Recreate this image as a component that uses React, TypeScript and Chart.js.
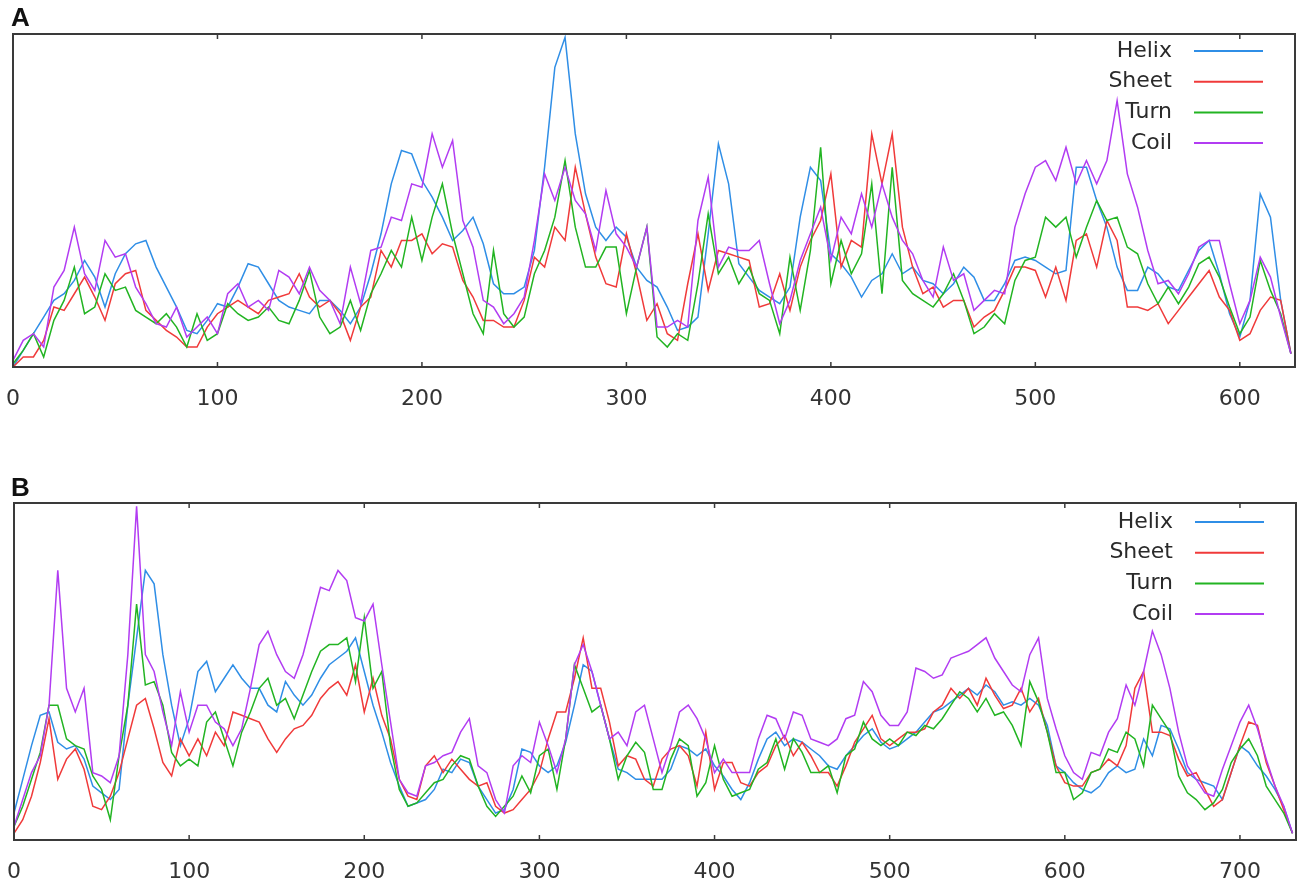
import React, { useEffect, useRef } from 'react';
import { Chart, registerables } from 'chart.js';

Chart.register(...registerables);

// residue step between samples (both panels)
const STEP = 5;

const seriesNames = ['Helix', 'Sheet', 'Turn', 'Coil'];
const seriesColors = ['#2f8ee6', '#f03a3a', '#22b422', '#b23cf2'];

// Panel A (0..627)
const helixA = [
  0, 0.05, 0.10, 0.15, 0.20, 0.22, 0.26, 0.32, 0.27, 0.18,
  0.28, 0.34, 0.37, 0.38, 0.30, 0.24, 0.18, 0.11, 0.10, 0.14,
  0.19, 0.18, 0.24, 0.31, 0.30, 0.25, 0.20, 0.18, 0.17, 0.16,
  0.20, 0.20, 0.17, 0.13, 0.18, 0.28, 0.40, 0.55, 0.65, 0.64,
  0.56, 0.51, 0.45, 0.38, 0.41, 0.45, 0.37, 0.25, 0.22, 0.22,
  0.24, 0.35, 0.60, 0.90, 0.99, 0.70, 0.52, 0.42, 0.38, 0.42,
  0.39, 0.30, 0.26, 0.24, 0.18, 0.11, 0.12, 0.15, 0.40, 0.67,
  0.55, 0.31, 0.27, 0.23, 0.21, 0.19, 0.24, 0.45, 0.60, 0.56,
  0.34, 0.31, 0.27, 0.21, 0.26, 0.28, 0.34, 0.28, 0.30, 0.26,
  0.25, 0.22, 0.25, 0.30, 0.27, 0.20, 0.20, 0.25, 0.32, 0.33,
  0.32, 0.30, 0.28, 0.29, 0.60, 0.60, 0.50, 0.42, 0.30, 0.23,
  0.23, 0.30, 0.28, 0.24, 0.23, 0.29, 0.35, 0.38, 0.28, 0.16,
  0.09, 0.20, 0.52, 0.45, 0.20, 0.04,
];
const sheetA = [
  0, 0.03, 0.03, 0.08, 0.18, 0.17, 0.22, 0.27, 0.21, 0.14,
  0.25, 0.28, 0.29, 0.17, 0.14, 0.11, 0.09, 0.06, 0.06, 0.12,
  0.16, 0.18, 0.20, 0.18, 0.16, 0.20, 0.21, 0.22, 0.28, 0.21,
  0.18, 0.20, 0.16, 0.08, 0.18, 0.21, 0.35, 0.30, 0.38, 0.38,
  0.40, 0.34, 0.37, 0.36, 0.26, 0.21, 0.14, 0.14, 0.12, 0.12,
  0.20, 0.33, 0.30, 0.42, 0.38, 0.60, 0.46, 0.33, 0.25, 0.24,
  0.40, 0.28, 0.14, 0.19, 0.10, 0.08, 0.25, 0.40, 0.23, 0.35,
  0.34, 0.33, 0.32, 0.18, 0.19, 0.28, 0.17, 0.30, 0.38, 0.44,
  0.58, 0.30, 0.38, 0.36, 0.70, 0.55, 0.70, 0.42, 0.30, 0.22,
  0.24, 0.18, 0.20, 0.20, 0.12, 0.15, 0.17, 0.23, 0.30, 0.30,
  0.29, 0.21, 0.30, 0.20, 0.38, 0.40, 0.30, 0.44, 0.38, 0.18,
  0.18, 0.17, 0.19, 0.13, 0.17, 0.21, 0.25, 0.29, 0.21, 0.17,
  0.08, 0.10, 0.17, 0.21, 0.20, 0.04,
];
const turnA = [
  0.01, 0.05, 0.10, 0.03, 0.14, 0.20, 0.30, 0.16, 0.18, 0.28,
  0.23, 0.24, 0.17, 0.15, 0.13, 0.16, 0.12, 0.06, 0.16, 0.08,
  0.10, 0.19, 0.16, 0.14, 0.15, 0.18, 0.14, 0.13, 0.20, 0.29,
  0.15, 0.10, 0.12, 0.20, 0.11, 0.22, 0.28, 0.35, 0.30, 0.45,
  0.32, 0.45, 0.55, 0.40, 0.28, 0.16, 0.10, 0.35, 0.16, 0.12,
  0.15, 0.28, 0.35, 0.45, 0.62, 0.42, 0.30, 0.30, 0.36, 0.36,
  0.16, 0.30, 0.42, 0.09, 0.06, 0.10, 0.08, 0.25, 0.46, 0.28,
  0.33, 0.25, 0.30, 0.22, 0.20, 0.10, 0.33, 0.17, 0.35, 0.66,
  0.25, 0.38, 0.28, 0.34, 0.55, 0.22, 0.60, 0.26, 0.22, 0.20,
  0.18, 0.22, 0.28, 0.20, 0.10, 0.12, 0.16, 0.13, 0.26, 0.32,
  0.33, 0.45, 0.42, 0.45, 0.33, 0.42, 0.50, 0.44, 0.45, 0.36,
  0.34, 0.25, 0.19, 0.24, 0.19, 0.24, 0.31, 0.33, 0.27, 0.18,
  0.10, 0.15, 0.32, 0.23, 0.16, 0.04,
];
const coilA = [
  0.02, 0.08, 0.10, 0.06, 0.24, 0.29, 0.42, 0.28, 0.23, 0.38,
  0.33, 0.34, 0.24, 0.19, 0.13, 0.12, 0.18, 0.09, 0.12, 0.15,
  0.10, 0.22, 0.25, 0.18, 0.20, 0.17, 0.29, 0.27, 0.22, 0.30,
  0.23, 0.20, 0.13, 0.30, 0.19, 0.35, 0.36, 0.45, 0.44, 0.55,
  0.54, 0.70, 0.60, 0.68, 0.44, 0.36, 0.20, 0.18, 0.13, 0.16,
  0.21, 0.38, 0.58, 0.50, 0.60, 0.50, 0.46, 0.35, 0.53, 0.40,
  0.36, 0.30, 0.42, 0.12, 0.12, 0.14, 0.12, 0.44, 0.57, 0.30,
  0.36, 0.35, 0.35, 0.38, 0.25, 0.13, 0.20, 0.32, 0.40, 0.48,
  0.32, 0.45, 0.40, 0.52, 0.42, 0.55, 0.45, 0.38, 0.34, 0.26,
  0.21, 0.36, 0.26, 0.28, 0.17, 0.20, 0.23, 0.22, 0.42, 0.52,
  0.60, 0.62, 0.56, 0.66, 0.55, 0.62, 0.55, 0.62, 0.80, 0.58,
  0.48, 0.35, 0.25, 0.26, 0.22, 0.28, 0.36, 0.38, 0.38, 0.25,
  0.13, 0.20, 0.33, 0.27, 0.15, 0.04,
];

// Panel B (0..732)
const helixB = [
  0.08, 0.18, 0.28, 0.37, 0.38, 0.29, 0.27, 0.28, 0.24, 0.16,
  0.14, 0.12, 0.15, 0.40, 0.60, 0.80, 0.76, 0.55, 0.40, 0.28,
  0.36, 0.50, 0.53, 0.44, 0.48, 0.52, 0.48, 0.45, 0.45, 0.40,
  0.38, 0.47, 0.43, 0.40, 0.43, 0.48, 0.52, 0.54, 0.56, 0.60,
  0.50, 0.40, 0.32, 0.23, 0.16, 0.10, 0.11, 0.12, 0.15, 0.21,
  0.20, 0.24, 0.23, 0.16, 0.12, 0.08, 0.09, 0.15, 0.27, 0.26,
  0.22, 0.20, 0.22, 0.29, 0.40, 0.52, 0.50, 0.40, 0.30, 0.21,
  0.20, 0.18, 0.18, 0.18, 0.18, 0.21, 0.28, 0.27, 0.25, 0.27,
  0.22, 0.19, 0.15, 0.12, 0.17, 0.24, 0.30, 0.32, 0.28, 0.30,
  0.29, 0.27, 0.25, 0.22, 0.21, 0.25, 0.28, 0.31, 0.33, 0.29,
  0.27, 0.28, 0.30, 0.32, 0.35, 0.38, 0.39, 0.41, 0.43, 0.45,
  0.43, 0.46, 0.44, 0.40, 0.41, 0.40, 0.42, 0.40, 0.34, 0.22,
  0.20, 0.17, 0.15, 0.14, 0.16, 0.20, 0.22, 0.20, 0.21, 0.30,
  0.25, 0.34, 0.33, 0.27, 0.20, 0.18, 0.17, 0.16, 0.12, 0.20,
  0.28, 0.26, 0.22, 0.19, 0.15, 0.10, 0.02,
];
const sheetB = [
  0.02, 0.06, 0.13, 0.23, 0.36, 0.18, 0.24, 0.27, 0.21, 0.10,
  0.09, 0.13, 0.20, 0.30, 0.40, 0.42, 0.33, 0.23, 0.19, 0.30,
  0.25, 0.30, 0.25, 0.32, 0.28, 0.38, 0.37, 0.36, 0.35, 0.30,
  0.26, 0.30, 0.33, 0.34, 0.37, 0.42, 0.45, 0.47, 0.43, 0.52,
  0.38, 0.48, 0.37, 0.30, 0.18, 0.13, 0.12, 0.22, 0.25, 0.20,
  0.24, 0.21, 0.18, 0.16, 0.17, 0.10, 0.08, 0.09, 0.12, 0.15,
  0.20, 0.30, 0.38, 0.38, 0.48, 0.60, 0.45, 0.45, 0.35, 0.22,
  0.25, 0.24, 0.18, 0.16, 0.24, 0.27, 0.28, 0.25, 0.16, 0.32,
  0.15, 0.23, 0.23, 0.17, 0.16, 0.20, 0.22, 0.28, 0.31, 0.25,
  0.29, 0.25, 0.20, 0.20, 0.16, 0.22, 0.29, 0.33, 0.37, 0.30,
  0.28, 0.30, 0.32, 0.32, 0.33, 0.38, 0.40, 0.45, 0.42, 0.45,
  0.40, 0.48, 0.43, 0.39, 0.40, 0.45, 0.38, 0.42, 0.32, 0.22,
  0.17, 0.16, 0.16, 0.20, 0.21, 0.24, 0.22, 0.28, 0.45, 0.50,
  0.32, 0.32, 0.31, 0.24, 0.19, 0.20, 0.15, 0.10, 0.12, 0.20,
  0.28, 0.35, 0.34, 0.23, 0.16, 0.09, 0.02,
];
const turnB = [
  0.04, 0.10, 0.18, 0.26, 0.40, 0.40, 0.30, 0.28, 0.27, 0.19,
  0.15, 0.06, 0.25, 0.40, 0.70, 0.46, 0.47, 0.40, 0.26, 0.22,
  0.24, 0.22, 0.35, 0.38, 0.30, 0.22, 0.32, 0.38, 0.45, 0.48,
  0.40, 0.42, 0.36, 0.43, 0.50, 0.56, 0.58, 0.58, 0.60, 0.47,
  0.66, 0.45, 0.50, 0.28, 0.15, 0.10, 0.11, 0.14, 0.17, 0.18,
  0.22, 0.25, 0.24, 0.16, 0.10, 0.07, 0.10, 0.13, 0.19, 0.14,
  0.25, 0.27, 0.15, 0.30, 0.52, 0.45, 0.38, 0.40, 0.30, 0.18,
  0.25, 0.29, 0.26, 0.15, 0.15, 0.24, 0.30, 0.28, 0.13, 0.17,
  0.28, 0.18, 0.13, 0.14, 0.15, 0.21, 0.23, 0.30, 0.21, 0.30,
  0.26, 0.20, 0.20, 0.22, 0.14, 0.25, 0.27, 0.35, 0.30, 0.28,
  0.30, 0.28, 0.32, 0.31, 0.34, 0.33, 0.36, 0.40, 0.44, 0.42,
  0.38, 0.42, 0.37, 0.38, 0.34, 0.28, 0.47, 0.41, 0.32, 0.20,
  0.20, 0.12, 0.14, 0.20, 0.21, 0.27, 0.26, 0.32, 0.30, 0.22,
  0.40, 0.36, 0.32, 0.19, 0.14, 0.12, 0.09, 0.11, 0.15, 0.23,
  0.27, 0.30, 0.25, 0.16, 0.12, 0.08, 0.02,
];
const coilB = [
  0.04, 0.12, 0.20, 0.25, 0.40, 0.80, 0.45, 0.38, 0.45, 0.20,
  0.19, 0.17, 0.25, 0.55, 0.99, 0.55, 0.50, 0.38, 0.28, 0.44,
  0.32, 0.40, 0.40, 0.35, 0.33, 0.28, 0.33, 0.45, 0.58, 0.62,
  0.55, 0.50, 0.48, 0.55, 0.65, 0.75, 0.74, 0.80, 0.77, 0.66,
  0.65, 0.70, 0.52, 0.35, 0.18, 0.14, 0.13, 0.22, 0.23, 0.25,
  0.26, 0.32, 0.36, 0.22, 0.20, 0.12, 0.08, 0.22, 0.25, 0.23,
  0.35, 0.28, 0.20, 0.30, 0.52, 0.58, 0.50, 0.40, 0.30, 0.32,
  0.28, 0.38, 0.40, 0.30, 0.20, 0.28, 0.38, 0.40, 0.36, 0.30,
  0.20, 0.24, 0.20, 0.20, 0.20, 0.30, 0.37, 0.36, 0.30, 0.38,
  0.37, 0.30, 0.29, 0.28, 0.30, 0.36, 0.37, 0.47, 0.44, 0.37,
  0.34, 0.34, 0.38, 0.51, 0.50, 0.48, 0.49, 0.54, 0.55, 0.56,
  0.58, 0.60, 0.54, 0.50, 0.46, 0.44, 0.55, 0.60, 0.42, 0.33,
  0.25, 0.20, 0.18, 0.26, 0.25, 0.32, 0.36, 0.46, 0.40, 0.50,
  0.62, 0.55, 0.45, 0.32, 0.22, 0.18, 0.14, 0.13, 0.21, 0.28,
  0.35, 0.40, 0.33, 0.24, 0.16, 0.10, 0.02,
];

const FONT = "'DejaVu Sans', sans-serif";

// box around the plot with inward tick marks, like the original plot
const framePlugin = {
  id: 'frame',
  afterDatasetsDraw(chart: any) {
    const { ctx, chartArea: a, scales } = chart;
    ctx.save();
    ctx.strokeStyle = '#3a3a3a';
    ctx.lineWidth = 2;
    ctx.strokeRect(a.left, a.top, a.right - a.left, a.bottom - a.top);
    ctx.lineWidth = 1.5;
    scales.x.ticks.forEach((t: any) => {
      const px = scales.x.getPixelForValue(t.value);
      ctx.beginPath();
      ctx.moveTo(px, a.bottom);
      ctx.lineTo(px, a.bottom - 5);
      ctx.moveTo(px, a.top);
      ctx.lineTo(px, a.top + 5);
      ctx.stroke();
    });
    ctx.restore();
  },
};

// key in the top right corner: label then a short line sample
const keyPlugin = {
  id: 'key',
  afterDraw(chart: any, _args: any, opts: any) {
    const { ctx, chartArea: a } = chart;
    ctx.save();
    ctx.font = `22px ${FONT}`;
    ctx.textAlign = 'right';
    ctx.textBaseline = 'middle';
    chart.data.datasets.forEach((ds: any, i: number) => {
      const y = a.top + opts.first + i * opts.gap;
      ctx.fillStyle = '#2a2a2a';
      ctx.fillText(ds.label, a.right - 123, y);
      ctx.strokeStyle = ds.borderColor;
      ctx.lineWidth = 2;
      ctx.beginPath();
      ctx.moveTo(a.right - 101, y);
      ctx.lineTo(a.right - 32, y);
      ctx.stroke();
    });
    ctx.restore();
  },
};

interface PanelProps {
  letter: string;
  series: number[][];
  xMax: number;
  top: number;
  height: number;
  padding: { left: number; right: number; top: number; bottom: number };
  keyFirst: number;
}

const Panel: React.FC<PanelProps> = ({ letter, series, xMax, top, height, padding, keyFirst }) => {
  const chartRef = useRef<HTMLCanvasElement>(null);
  const chartInstance = useRef<Chart | null>(null);

  useEffect(() => {
    if (!chartRef.current) return;
    if (chartInstance.current) chartInstance.current.destroy();
    const ctx = chartRef.current.getContext('2d');
    if (!ctx) return;

    chartInstance.current = new Chart(ctx, {
      type: 'line',
      data: {
        datasets: series.map((vals, i) => ({
          label: seriesNames[i],
          data: vals.map((v, j) => ({ x: j * STEP, y: v })),
          borderColor: seriesColors[i],
          borderWidth: 1.5,
          pointRadius: 0,
          tension: 0,
          order: series.length - i,
        })),
      },
      options: {
        responsive: true,
        maintainAspectRatio: false,
        animation: false,
        events: [],
        layout: { padding },
        plugins: {
          legend: { display: false },
          tooltip: { enabled: false },
          key: { first: keyFirst, gap: 30.7 },
        } as any,
        scales: {
          x: {
            type: 'linear',
            min: 0,
            max: xMax,
            grid: { display: false },
            border: { display: false },
            ticks: {
              stepSize: 100,
              includeBounds: false,
              autoSkip: false,
              maxRotation: 0,
              padding: 11,
              color: '#333',
              font: { family: FONT, size: 22 },
            },
            afterFit: (s: any) => {
              s.height = 45;
              s.paddingLeft = 0;
              s.paddingRight = 0;
            },
          },
          y: {
            display: false,
            min: 0,
            max: 1,
          },
        },
      },
      plugins: [framePlugin, keyPlugin],
    });

    return () => {
      if (chartInstance.current) {
        chartInstance.current.destroy();
        chartInstance.current = null;
      }
    };
  }, [series, xMax, padding, keyFirst]);

  return (
    <div style={{ position: 'absolute', left: 0, top, width: 1305, height }}>
      <canvas ref={chartRef} />
      <div
        style={{
          position: 'absolute',
          left: 11,
          top: 4,
          font: "bold 26px 'Liberation Sans', Arial, sans-serif",
          lineHeight: '26px',
          color: '#111',
        }}
      >
        {letter}
      </div>
    </div>
  );
};

const seriesA = [helixA, sheetA, turnA, coilA];
const seriesB = [helixB, sheetB, turnB, coilB];
const padA = { left: 13, right: 10, top: 34, bottom: 28 };
const padB = { left: 14, right: 9, top: 33, bottom: 1 };

export default function App() {
  return (
    <div style={{ position: 'absolute', left: 0, top: 0, width: 1305, height: 886, background: '#fff' }}>
      <Panel letter="A" series={seriesA} xMax={627} top={0} height={440} padding={padA} keyFirst={17} />
      <Panel letter="B" series={seriesB} xMax={732} top={470} height={416} padding={padB} keyFirst={19} />
    </div>
  );
}
